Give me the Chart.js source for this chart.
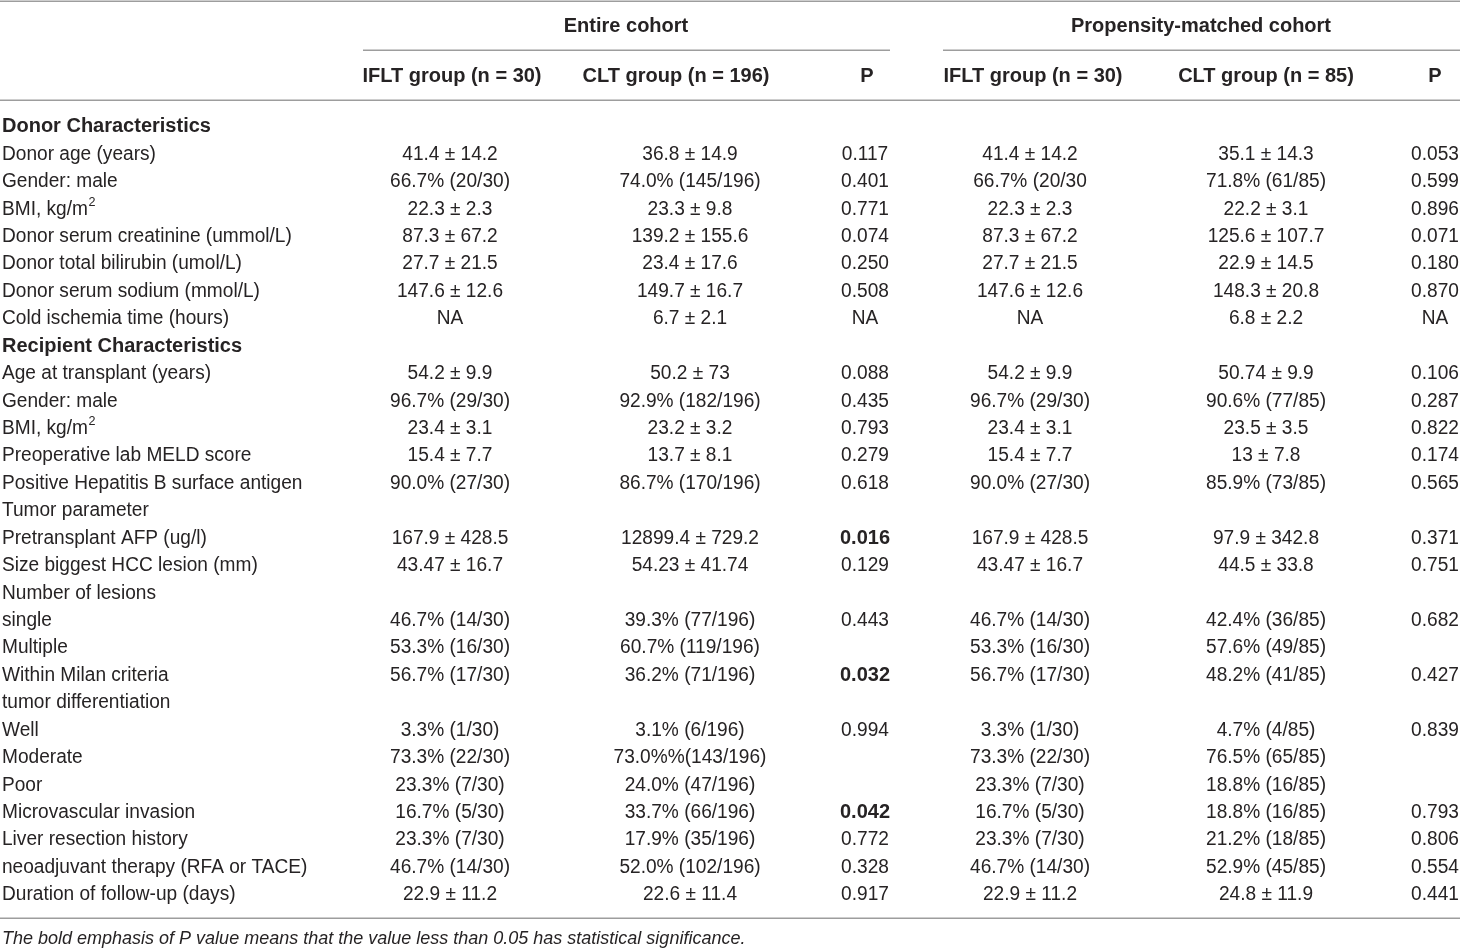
<!DOCTYPE html>
<html>
<head>
<meta charset="utf-8">
<title>IFLT vs CLT cohort characteristics</title>
<script src="https://cdn.jsdelivr.net/npm/chart.js@4.4.1/dist/chart.umd.min.js"></script>
<style>
  html, body { margin: 0; padding: 0; background: #fff; }
  #tableChart { display: block; }
</style>
</head>
<body>
<canvas id="tableChart" width="1460" height="949"></canvas>
<script>
// table data starts

const groupHeaders = ['Entire cohort', 'Propensity-matched cohort'];
const columnHeaders = ['IFLT group (n = 30)', 'CLT group (n = 196)', 'P', 'IFLT group (n = 30)', 'CLT group (n = 85)', 'P'];

const sectionRows = ['Donor Characteristics', 'Recipient Characteristics'];

const rowLabels = [
  'Donor Characteristics',
  'Donor age (years)',
  'Gender: male',
  'BMI, kg/m^2',
  'Donor serum creatinine (ummol/L)',
  'Donor total bilirubin (umol/L)',
  'Donor serum sodium (mmol/L)',
  'Cold ischemia time (hours)',
  'Recipient Characteristics',
  'Age at transplant (years)',
  'Gender: male',
  'BMI, kg/m^2',
  'Preoperative lab MELD score',
  'Positive Hepatitis B surface antigen',
  'Tumor parameter',
  'Pretransplant AFP (ug/l)',
  'Size biggest HCC lesion (mm)',
  'Number of lesions',
  'single',
  'Multiple',
  'Within Milan criteria',
  'tumor differentiation',
  'Well',
  'Moderate',
  'Poor',
  'Microvascular invasion',
  'Liver resection history',
  'neoadjuvant therapy (RFA or TACE)',
  'Duration of follow-up (days)'
];

const ifltEntire = [
  '', '41.4 ± 14.2', '66.7% (20/30)', '22.3 ± 2.3', '87.3 ± 67.2', '27.7 ± 21.5', '147.6 ± 12.6', 'NA',
  '', '54.2 ± 9.9', '96.7% (29/30)', '23.4 ± 3.1', '15.4 ± 7.7', '90.0% (27/30)',
  '', '167.9 ± 428.5', '43.47 ± 16.7', '', '46.7% (14/30)', '53.3% (16/30)', '56.7% (17/30)',
  '', '3.3% (1/30)', '73.3% (22/30)', '23.3% (7/30)', '16.7% (5/30)', '23.3% (7/30)', '46.7% (14/30)', '22.9 ± 11.2'
];
const cltEntire = [
  '', '36.8 ± 14.9', '74.0% (145/196)', '23.3 ± 9.8', '139.2 ± 155.6', '23.4 ± 17.6', '149.7 ± 16.7', '6.7 ± 2.1',
  '', '50.2 ± 73', '92.9% (182/196)', '23.2 ± 3.2', '13.7 ± 8.1', '86.7% (170/196)',
  '', '12899.4 ± 729.2', '54.23 ± 41.74', '', '39.3% (77/196)', '60.7% (119/196)', '36.2% (71/196)',
  '', '3.1% (6/196)', '73.0%%(143/196)', '24.0% (47/196)', '33.7% (66/196)', '17.9% (35/196)', '52.0% (102/196)', '22.6 ± 11.4'
];
const pEntire = [
  '', '0.117', '0.401', '0.771', '0.074', '0.250', '0.508', 'NA',
  '', '0.088', '0.435', '0.793', '0.279', '0.618',
  '', '0.016', '0.129', '', '0.443', '', '0.032',
  '', '0.994', '', '', '0.042', '0.772', '0.328', '0.917'
];
const ifltMatched = [
  '', '41.4 ± 14.2', '66.7% (20/30', '22.3 ± 2.3', '87.3 ± 67.2', '27.7 ± 21.5', '147.6 ± 12.6', 'NA',
  '', '54.2 ± 9.9', '96.7% (29/30)', '23.4 ± 3.1', '15.4 ± 7.7', '90.0% (27/30)',
  '', '167.9 ± 428.5', '43.47 ± 16.7', '', '46.7% (14/30)', '53.3% (16/30)', '56.7% (17/30)',
  '', '3.3% (1/30)', '73.3% (22/30)', '23.3% (7/30)', '16.7% (5/30)', '23.3% (7/30)', '46.7% (14/30)', '22.9 ± 11.2'
];
const cltMatched = [
  '', '35.1 ± 14.3', '71.8% (61/85)', '22.2 ± 3.1', '125.6 ± 107.7', '22.9 ± 14.5', '148.3 ± 20.8', '6.8 ± 2.2',
  '', '50.74 ± 9.9', '90.6% (77/85)', '23.5 ± 3.5', '13 ± 7.8', '85.9% (73/85)',
  '', '97.9 ± 342.8', '44.5 ± 33.8', '', '42.4% (36/85)', '57.6% (49/85)', '48.2% (41/85)',
  '', '4.7% (4/85)', '76.5% (65/85)', '18.8% (16/85)', '18.8% (16/85)', '21.2% (18/85)', '52.9% (45/85)', '24.8 ± 11.9'
];
const pMatched = [
  '', '0.053', '0.599', '0.896', '0.071', '0.180', '0.870', 'NA',
  '', '0.106', '0.287', '0.822', '0.174', '0.565',
  '', '0.371', '0.751', '', '0.682', '', '0.427',
  '', '0.839', '', '', '0.793', '0.806', '0.554', '0.441'
];

const footnote = 'The bold emphasis of P value means that the value less than 0.05 has statistical significance.';

// table data ends


// layout (x in page units of the linear x scale, y in row units)
const layout = {
  labelX: 2,
  dataX: [450, 690, 865, 1030, 1266, 1435],
  headerX: [452, 676, 867, 1033, 1266, 1435],
  groupX: [626, 1201],
  groupRule: [[363, 890], [943, 1460]],
  rowStep: 27.43,
  firstRowPx: 126.8,
  groupRowY: -3.646,
  headRowY: -1.823,
  topRuleY: -4.59,
  groupRuleY: -2.8,
  headRuleY: -0.975,
  bottomRuleY: 28.84,
  footY: 29.62
};

const textColor = '#262324';
const ruleColor = '#9d9d9d';
const fontFamily = '"Liberation Sans", Arial, sans-serif';
const regularSquash = 0.955;

const valueColumns = [ifltEntire, cltEntire, pEntire, ifltMatched, cltMatched, pMatched];

// every cell becomes an invisible point, the plugin writes its text there
function cellDataset(id, values, x, kind) {
  return {
    label: id,
    kind: kind,
    texts: values,
    data: values.map((v, i) => ({ x: x, y: i })),
    pointRadius: 0,
    pointHoverRadius: 0,
    showLine: false
  };
}

const datasets = [cellDataset('labels', rowLabels, layout.labelX, 'label')];
valueColumns.forEach((col, c) => {
  datasets.push(cellDataset('col' + c, col, layout.dataX[c], c === 2 || c === 5 ? 'p' : 'value'));
});
datasets.push({
  label: 'groupHeads', kind: 'group', texts: groupHeaders,
  data: groupHeaders.map((h, i) => ({ x: layout.groupX[i], y: layout.groupRowY })),
  pointRadius: 0, pointHoverRadius: 0
});
datasets.push({
  label: 'colHeads', kind: 'head', texts: columnHeaders,
  data: columnHeaders.map((h, i) => ({ x: layout.headerX[i], y: layout.headRowY })),
  pointRadius: 0, pointHoverRadius: 0
});
datasets.push({
  label: 'foot', kind: 'foot', texts: [footnote],
  data: [{ x: layout.labelX, y: layout.footY }],
  pointRadius: 0, pointHoverRadius: 0
});

function drawText(ctx, text, x, y, align, squash) {
  // split off a superscript written as ^
  const parts = text.split('^');
  const main = parts[0];
  const sup = parts[1] || '';
  const mainW = ctx.measureText(main).width * squash;
  let supW = 0;
  const baseFont = ctx.font;
  const supFont = baseFont.replace(/(\d+(\.\d+)?)px/, (m, n) => (parseFloat(n) * 0.66) + 'px');
  if (sup) {
    ctx.font = supFont;
    supW = ctx.measureText(sup).width * squash;
    ctx.font = baseFont;
  }
  const total = mainW + supW;
  let left = x;
  if (align === 'center') left = x - total / 2;
  ctx.save();
  ctx.translate(left, y);
  ctx.scale(squash, 1);
  ctx.textAlign = 'left';
  ctx.fillText(main, 0, 0);
  if (sup) {
    ctx.font = supFont;
    ctx.fillText(sup, mainW / squash + 0.5, -7);
  }
  ctx.restore();
}

const tablePlugin = {
  id: 'tableText',
  afterDatasetsDraw(chart) {
    const ctx = chart.ctx;
    const xs = chart.scales.x;
    const ys = chart.scales.y;

    // horizontal rules
    ctx.save();
    ctx.strokeStyle = ruleColor;
    ctx.lineWidth = 1.5;
    const rule = (x0, x1, yv) => {
      const py = Math.round(ys.getPixelForValue(yv)) + 0.25;
      ctx.beginPath();
      ctx.moveTo(xs.getPixelForValue(x0), py);
      ctx.lineTo(xs.getPixelForValue(x1), py);
      ctx.stroke();
    };
    rule(0, 1460, layout.topRuleY);
    layout.groupRule.forEach(r => rule(r[0], r[1], layout.groupRuleY));
    rule(0, 1460, layout.headRuleY);
    rule(0, 1460, layout.bottomRuleY);
    ctx.restore();

    // cell texts
    ctx.save();
    ctx.fillStyle = textColor;
    ctx.textBaseline = 'middle';
    chart.data.datasets.forEach((ds, di) => {
      const meta = chart.getDatasetMeta(di);
      meta.data.forEach((pt, i) => {
        const t = ds.texts[i];
        if (!t) return;
        let bold = false, italic = false, size = 20, align = 'center', squash = regularSquash;
        if (ds.kind === 'label') {
          align = 'left';
          bold = sectionRows.includes(t);
        } else if (ds.kind === 'p') {
          bold = parseFloat(t) < 0.05;
        } else if (ds.kind === 'group' || ds.kind === 'head') {
          bold = true;
        } else if (ds.kind === 'foot') {
          italic = true; align = 'left'; size = 18;
        }
        if (bold || italic) squash = 1.0;
        ctx.font = (italic ? 'italic ' : '') + (bold ? 'bold ' : '') + size + 'px ' + fontFamily;
        drawText(ctx, t, pt.x, pt.y, align, squash);
      });
    });
    ctx.restore();
  }
};

const yMin = -layout.firstRowPx / layout.rowStep;
const yMax = yMin + 949 / layout.rowStep;

new Chart(document.getElementById('tableChart'), {
  type: 'scatter',
  data: { datasets: datasets },
  options: {
    responsive: false,
    animation: false,
    devicePixelRatio: 1,
    layout: { padding: 0 },
    plugins: {
      legend: { display: false },
      tooltip: { enabled: false }
    },
    events: [],
    scales: {
      x: { type: 'linear', min: 0, max: 1460, display: false },
      y: { type: 'linear', min: yMin, max: yMax, reverse: true, display: false }
    }
  },
  plugins: [tablePlugin]
});
</script>
</body>
</html>
